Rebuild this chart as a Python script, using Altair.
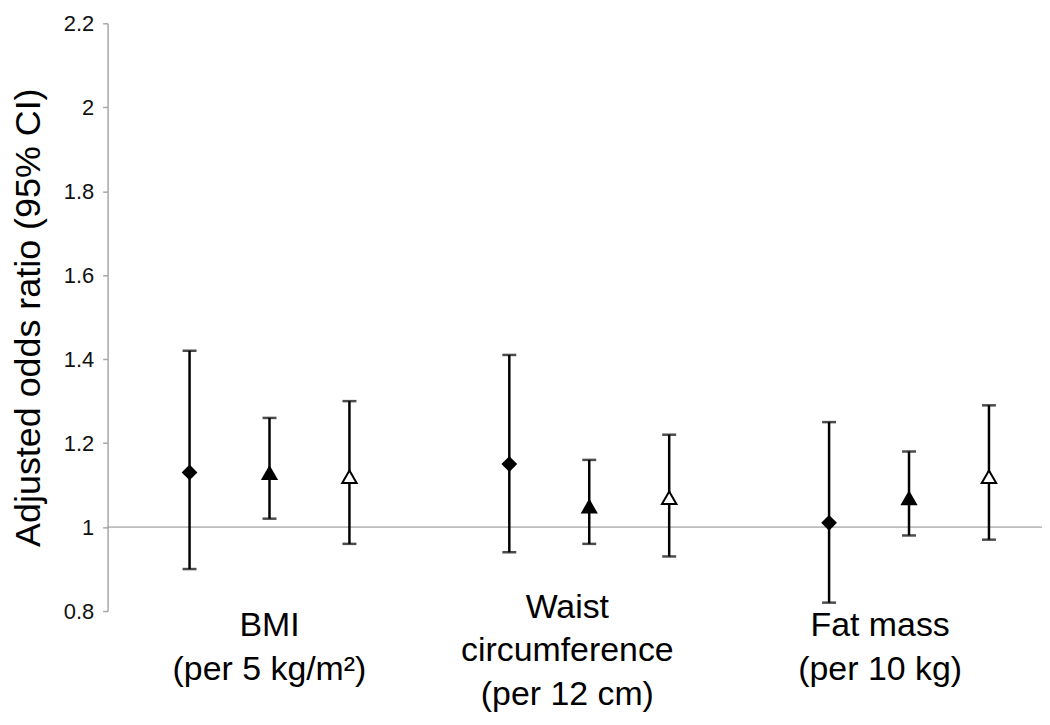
import altair as alt
import pandas as pd

# ---- data ----
groups = ["BMI|(per 5 kg/m²)", "Waist|circumference|(per 12 cm)", "Fat mass|(per 10 kg)"]
series = ["Series 1", "Series 2", "Series 3"]

est_s1 = [1.13, 1.15, 1.01]
lo_s1 = [0.90, 0.94, 0.82]
hi_s1 = [1.42, 1.41, 1.25]

est_s2 = [1.13, 1.05, 1.07]
lo_s2 = [1.02, 0.96, 0.98]
hi_s2 = [1.26, 1.16, 1.18]

est_s3 = [1.12, 1.07, 1.12]
lo_s3 = [0.96, 0.93, 0.97]
hi_s3 = [1.30, 1.22, 1.29]

y_ticks = [0.8, 1.0, 1.2, 1.4, 1.6, 1.8, 2.0, 2.2]

rows = []
for s, est, lo, hi in zip(series, [est_s1, est_s2, est_s3], [lo_s1, lo_s2, lo_s3], [hi_s1, hi_s2, hi_s3]):
    for g, e, l, h in zip(groups, est, lo, hi):
        rows.append({"group": g, "series": s, "est": e, "lo": l, "hi": h})
df = pd.DataFrame(rows)

FONT = "Liberation Sans"

x_enc = alt.X(
    "group:N",
    sort=groups,
    scale=alt.Scale(range=[2, 965], paddingInner=0, paddingOuter=0),
    axis=alt.Axis(
        title=None,
        domain=False,
        ticks=False,
        tickSize=0,
        labelAngle=0,
        labelExpr="split(datum.label, '|')",
        labelFont=FONT,
        labelFontSize=34,
        labelLineHeight=44,
        labelColor="#000000",
        labelBaseline="middle",
        labelAlign="center",
        labelPadding={
            "condition": {"test": "indexof(datum.value, 'Waist') >= 0", "value": -4},
            "value": 15,
        },
        labelLimit=500,
        labelOverlap=False,
        labelBound=False,
        labelOffset={
            "condition": [
                {"test": "indexof(datum.value, 'Waist') >= 0", "value": -22},
                {"test": "indexof(datum.value, 'Fat') >= 0", "value": -29},
            ],
            "value": 0,
        },
    ),
)
xo_enc = alt.XOffset(
    "series:N", sort=series, scale=alt.Scale(paddingInner=0, paddingOuter=0.5)
)
y_scale = alt.Scale(domain=[0.8, 2.2], nice=False, zero=False)

base = alt.Chart(df).encode(x=x_enc, xOffset=xo_enc)

ref = alt.Chart(pd.DataFrame({"v": [1.0]})).mark_rule(color="#8c8c8c", strokeWidth=1).encode(
    y=alt.Y(
        "v:Q",
        scale=y_scale,
        axis=alt.Axis(
            title="Adjusted odds ratio (95% CI)",
            values=y_ticks,
            format="~g",
            grid=False,
            domainColor="#a8a8a8",
            domainWidth=1.5,
            tickColor="#a8a8a8",
            tickWidth=1.5,
            tickSize=5,
            labelFont=FONT,
            labelFontSize=22,
            labelColor="#111111",
            labelPadding=9,
            titleFont=FONT,
            titleFontSize=36,
            titleFontWeight="normal",
            titleColor="#000000",
            titlePadding=16,
        ),
    )
)

bars = base.mark_rule(color="black", strokeWidth=2.5).encode(
    y=alt.Y("lo:Q", scale=y_scale), y2="hi:Q"
)
cap_hi = base.mark_tick(color="black", size=14, thickness=2.5).encode(
    y=alt.Y("hi:Q", scale=y_scale)
)
cap_lo = base.mark_tick(color="black", size=14, thickness=2.5).encode(
    y=alt.Y("lo:Q", scale=y_scale)
)

p1 = base.transform_filter(alt.datum.series == series[0]).mark_point(
    shape="diamond", filled=True, color="black", size=250, opacity=1
).encode(y=alt.Y("est:Q", scale=y_scale))
p2 = base.transform_filter(alt.datum.series == series[1]).mark_point(
    shape="triangle-up", filled=True, color="black", size=300, opacity=1
).encode(y=alt.Y("est:Q", scale=y_scale))
p3 = base.transform_filter(alt.datum.series == series[2]).mark_point(
    shape="triangle-up", fill="white", stroke="black", strokeWidth=2, size=210, opacity=1
).encode(y=alt.Y("est:Q", scale=y_scale))

chart = (
    alt.layer(ref, bars, cap_hi, cap_lo, p1, p2, p3)
    .properties(
        width=938,
        height=590,
        padding={"left": 100, "top": 14, "right": 0, "bottom": 100},
        autosize=alt.AutoSizeParams(type="none"),
        background="white",
    )
    .configure_view(stroke=None)
)

chart.save("out.html", embed_options={"renderer": "svg", "actions": False})
